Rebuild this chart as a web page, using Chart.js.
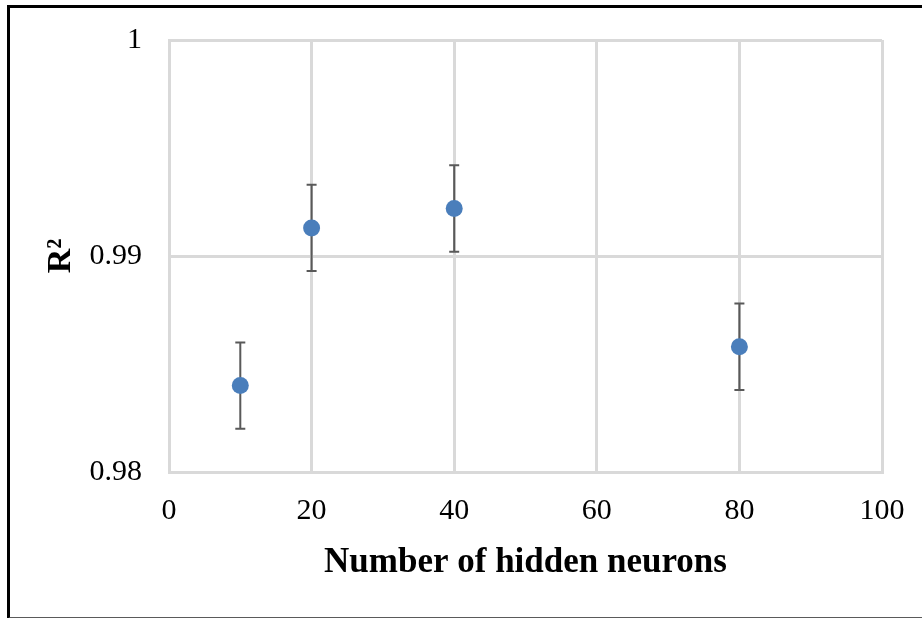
<!DOCTYPE html>
<html>
<head>
<meta charset="utf-8">
<script src="https://cdn.jsdelivr.net/npm/chart.js@4"></script>
<style>
  html, body { margin: 0; padding: 0; background: #ffffff; }
  #wrap { position: relative; width: 922px; height: 618px; overflow: hidden; background: #ffffff; }
  #frame {
    position: absolute; left: 7px; top: 5px; width: 940px; height: 609px;
    border-left: 3px solid #000; border-top: 3px solid #000; border-bottom: 2px solid #5a5a5a;
    pointer-events: none;
  }
  canvas { position: absolute; left: 0; top: 0; }
</style>
</head>
<body>
<div id="wrap">
  <canvas id="c" width="922" height="618"></canvas>
  <div id="frame"></div>
</div>
<script>
// Hidden-layer size vs. coefficient of determination
const neurons = [10, 20, 40, 80];
const r2Mean  = [0.9840, 0.9913, 0.9922, 0.9858];
const r2Err   = [0.0020, 0.0020, 0.0020, 0.0020];

const xTicks = { min: 0, max: 100, step: 20 };
const yTicks = { min: 0.98, max: 1, step: 0.01 };

const points = neurons.map((n, i) => ({ x: n, y: r2Mean[i] }));

// Vertical error bars with caps, drawn underneath the markers
const errorBars = {
  id: 'errorBars',
  beforeDatasetsDraw(chart) {
    const { ctx, scales: { x, y } } = chart;
    ctx.save();
    ctx.strokeStyle = '#595959';
    ctx.lineWidth = 2;
    neurons.forEach((n, i) => {
      const px = x.getPixelForValue(n);
      const top = y.getPixelForValue(r2Mean[i] + r2Err[i]);
      const bot = y.getPixelForValue(r2Mean[i] - r2Err[i]);
      const cap = 5;
      ctx.beginPath();
      ctx.moveTo(px, top); ctx.lineTo(px, bot);
      ctx.moveTo(px - cap, top); ctx.lineTo(px + cap, top);
      ctx.moveTo(px - cap, bot); ctx.lineTo(px + cap, bot);
      ctx.stroke();
    });
    ctx.restore();
  }
};

const gridColor = '#d9d9d9';
const serif = "'Liberation Serif', 'Times New Roman', serif";

new Chart(document.getElementById('c'), {
  type: 'scatter',
  data: {
    datasets: [{
      data: points,
      backgroundColor: '#4a7ebb',
      borderWidth: 0,
      pointRadius: 8.5,
      pointHoverRadius: 8.5
    }]
  },
  options: {
    responsive: false,
    animation: false,
    events: [],
    layout: { padding: { top: 40, right: 40, left: 0, bottom: 0 } },
    plugins: { legend: { display: false }, tooltip: { enabled: false } },
    scales: {
      x: {
        type: 'linear',
        min: xTicks.min, max: xTicks.max,
        afterFit(scale) { scale.height = 146; scale.paddingLeft = 0; scale.paddingRight = 0; },
        ticks: {
          stepSize: xTicks.step,
          color: '#000',
          padding: 21,
          font: { family: serif, size: 30 }
        },
        grid: { color: gridColor, lineWidth: 3, drawTicks: false },
        border: { color: gridColor, width: 3 },
        title: {
          display: true,
          text: 'Number of hidden neurons',
          color: '#000',
          font: { family: serif, size: 35, weight: 'bold' },
          padding: { top: 0, bottom: 34 }
        }
      },
      y: {
        type: 'linear',
        min: yTicks.min, max: yTicks.max,
        afterFit(scale) { scale.width = 169; scale.paddingTop = 0; scale.paddingBottom = 0; },
        ticks: {
          stepSize: yTicks.step,
          color: '#000',
          padding: 27,
          font: { family: serif, size: 30 },
          callback: v => String(Math.round(v * 100) / 100)
        },
        grid: { color: gridColor, lineWidth: 3, drawTicks: false },
        border: { color: gridColor, width: 3 },
        title: {
          display: true,
          text: 'R²',
          color: '#000',
          font: { family: serif, size: 34, weight: 'bold' },
          padding: { top: 41, bottom: 0 }
        }
      }
    }
  },
  plugins: [errorBars]
});
</script>
</body>
</html>
